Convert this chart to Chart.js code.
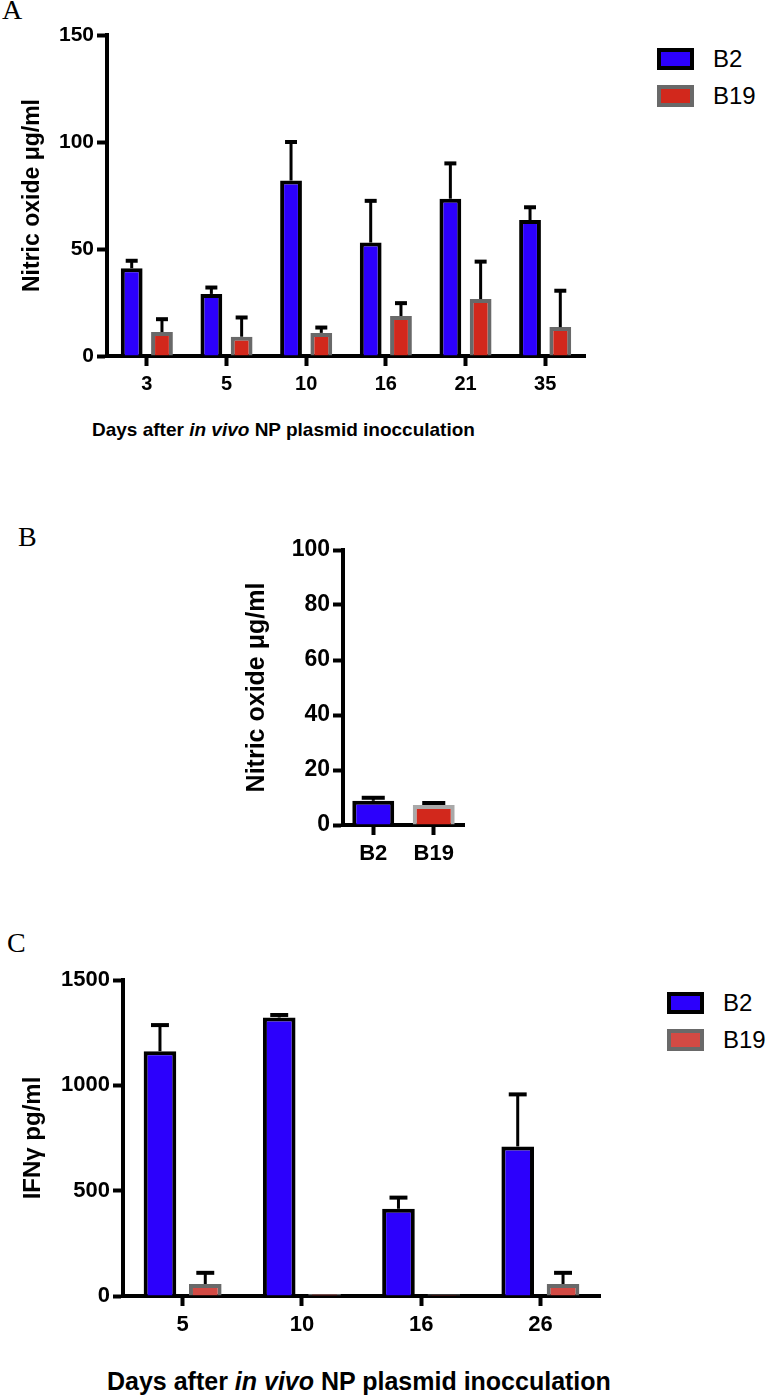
<!DOCTYPE html>
<html>
<head>
<meta charset="utf-8">
<script src="https://cdn.jsdelivr.net/npm/chart.js@4.4.1/dist/chart.umd.min.js"></script>
<style>
body { margin: 0; background: #fff; }
#page { position: relative; width: 767px; height: 1396px; overflow: hidden; font-family: 'Liberation Sans', Arial, sans-serif; color: #000; }
canvas { position: absolute; }
.panel { position: absolute; font-family: 'Liberation Serif', 'DejaVu Serif', serif; font-size: 28px; line-height: 28px; }
.xtitle { position: absolute; font-weight: bold; white-space: nowrap; }
.legend { position: absolute; }
.legend .item { display: flex; align-items: center; height: 22px; margin-bottom: 15px; font-size: 24px; }
.legend .box { width: 29px; height: 14px; border: 4px solid #000; margin-right: 19px; }
</style>
</head>
<body>
<div id="page">
  <div class="panel" style="left:2px; top:-4px;">A</div>
  <div class="panel" style="left:18px; top:523px;">B</div>
  <div class="panel" style="left:7px; top:929px;">C</div>

  <canvas id="chart-a" width="600" height="400" style="left:0; top:0;"></canvas>
  <div id="legend-a" class="legend" style="left:657px; top:48px;"></div>
  <div class="xtitle" style="left:92px; top:419px; font-size:19px; line-height:22px;">Days after <i>in vivo</i> NP plasmid inocculation</div>

  <canvas id="chart-b" width="260" height="360" style="left:230px; top:520px;"></canvas>

  <canvas id="chart-c" width="620" height="390" style="left:0; top:950px;"></canvas>
  <div id="legend-c" class="legend" style="left:667px; top:992px;"></div>
  <div class="xtitle" style="left:107px; top:1367px; font-size:25px; line-height:28px;">Days after <i>in vivo</i> NP plasmid inocculation</div>
</div>

<script>
// panel A - nitric oxide after inoculation
var daysA = ['3', '5', '10', '16', '21', '35'];
var b2NitricA = [41, 29, 82, 53, 73.5, 63.5];
var b2NitricErrA = [3.5, 3, 18, 19.5, 16.5, 6];
var b19NitricA = [11.2, 9, 10.8, 18.7, 26.6, 13.5];
var b19NitricErrA = [6, 9, 2.5, 6, 17.5, 17];

// panel B - nitric oxide per strain
var strainsB = ['B2', 'B19'];
var nitricB = [8.8, 7.3];
var nitricErrB = [1.1, 0.7];

// panel C - IFN gamma
var daysC = ['5', '10', '16', '26'];
var b2IfnC = [1162, 1322, 414, 710];
var b2IfnErrC = [124, 12, 53, 247];
var b19IfnC = [57, 10, 8, 57];
var b19IfnErrC = [53, 0, 0, 53];

var BLUE = '#2c00fc';
var RED = '#d2281c';
var RED_LIGHT = '#d24a44';
var GREY = '#696969';
var GREY_LIGHT = '#a9a9a9';

Chart.defaults.font.family = "'Liberation Sans', Arial, sans-serif";
Chart.defaults.color = '#000';

// mean + SEM style bars, only upward
var errorBars = {
  id: 'errorBars',
  afterDatasetsDraw: function(chart) {
    var ctx = chart.ctx;
    var yScale = chart.scales.y;
    chart.data.datasets.forEach(function(ds, i) {
      if (!ds.errors) return;
      var meta = chart.getDatasetMeta(i);
      meta.data.forEach(function(bar, j) {
        var err = ds.errors[j];
        if (!err) return;
        var top = yScale.getPixelForValue(ds.data[j] + err);
        var cap = bar.width * 0.55;
        ctx.save();
        ctx.strokeStyle = '#000';
        ctx.lineWidth = 3;
        ctx.beginPath();
        ctx.moveTo(bar.x, bar.y);
        ctx.lineTo(bar.x, top);
        ctx.stroke();
        ctx.lineWidth = 4;
        ctx.beginPath();
        ctx.moveTo(bar.x - cap / 2, top);
        ctx.lineTo(bar.x + cap / 2, top);
        ctx.stroke();
        ctx.restore();
      });
    });
  }
};

function yAxis(max, step, title, tickSize, titleSize, width) {
  return {
    min: 0,
    max: max,
    ticks: {
      stepSize: step, color: '#000', padding: 3, font: { size: tickSize, weight: 'bold' },
      callback: function(v) { return String(v); }
    },
    grid: { drawOnChartArea: false, drawTicks: true, tickLength: 10, tickWidth: 4, tickColor: '#000' },
    border: { display: true, width: 4, color: '#000' },
    title: { display: true, text: title, color: '#000', padding: 0, font: { size: titleSize, weight: 'bold' } },
    afterFit: function(scale) { scale.width = width; }
  };
}

function xAxis(tickSize, height) {
  return {
    ticks: { color: '#000', padding: 6, maxRotation: 0, font: { size: tickSize, weight: 'bold' } },
    grid: { offset: false, drawOnChartArea: false, drawTicks: true, tickLength: 10, tickWidth: 4, tickColor: '#000' },
    border: { display: true, width: 4, color: '#000' },
    afterFit: function(scale) { scale.height = height; }
  };
}

function buildLegend(chart, elId) {
  var holder = document.getElementById(elId);
  chart.data.datasets.forEach(function(ds) {
    var item = document.createElement('div');
    item.className = 'item';
    var box = document.createElement('span');
    box.className = 'box';
    box.style.background = ds.backgroundColor;
    box.style.borderColor = ds.borderColor;
    item.appendChild(box);
    item.appendChild(document.createTextNode(ds.label));
    holder.appendChild(item);
  });
}

var commonPlugins = { legend: { display: false }, tooltip: { enabled: false } };

var chartA = new Chart(document.getElementById('chart-a'), {
  type: 'bar',
  data: {
    labels: daysA,
    datasets: [
      { label: 'B2', data: b2NitricA, errors: b2NitricErrA, backgroundColor: BLUE, borderColor: '#000', borderWidth: 4 },
      { label: 'B19', data: b19NitricA, errors: b19NitricErrA, backgroundColor: RED, borderColor: GREY, borderWidth: 4 }
    ]
  },
  options: {
    responsive: false,
    animation: false,
    categoryPercentage: 0.76,
    barPercentage: 0.72,
    layout: { padding: { left: 19, top: 35, right: 15, bottom: 0 } },
    scales: {
      x: xAxis(20, 44),
      y: yAxis(150, 50, 'Nitric oxide μg/ml', 21, 23, 88)
    },
    plugins: commonPlugins
  },
  plugins: [errorBars]
});
buildLegend(chartA, 'legend-a');

var chartB = new Chart(document.getElementById('chart-b'), {
  type: 'bar',
  data: {
    labels: strainsB,
    datasets: [
      { label: 'Nitric oxide', data: nitricB, errors: nitricErrB, backgroundColor: [BLUE, RED], borderColor: ['#000', GREY_LIGHT], borderWidth: 4 }
    ]
  },
  options: {
    responsive: false,
    animation: false,
    categoryPercentage: 0.9,
    barPercentage: 0.77,
    layout: { padding: { left: 12, top: 30, right: 26, bottom: 0 } },
    scales: {
      x: xAxis(22, 55),
      y: yAxis(100, 20, 'Nitric oxide μg/ml', 23, 25, 101)
    },
    plugins: commonPlugins
  },
  plugins: [errorBars]
});

var chartC = new Chart(document.getElementById('chart-c'), {
  type: 'bar',
  data: {
    labels: daysC,
    datasets: [
      { label: 'B2', data: b2IfnC, errors: b2IfnErrC, backgroundColor: BLUE, borderColor: '#000', borderWidth: 4 },
      { label: 'B19', data: b19IfnC, errors: b19IfnErrC, backgroundColor: RED_LIGHT, borderColor: GREY, borderWidth: 4 }
    ]
  },
  options: {
    responsive: false,
    animation: false,
    categoryPercentage: 0.76,
    barPercentage: 0.72,
    layout: { padding: { left: 19, top: 30, right: 20, bottom: 0 } },
    scales: {
      x: xAxis(22, 44),
      y: yAxis(1500, 500, 'IFNγ pg/ml', 22, 24, 104)
    },
    plugins: commonPlugins
  },
  plugins: [errorBars]
});
buildLegend(chartC, 'legend-c');
</script>
</body>
</html>
